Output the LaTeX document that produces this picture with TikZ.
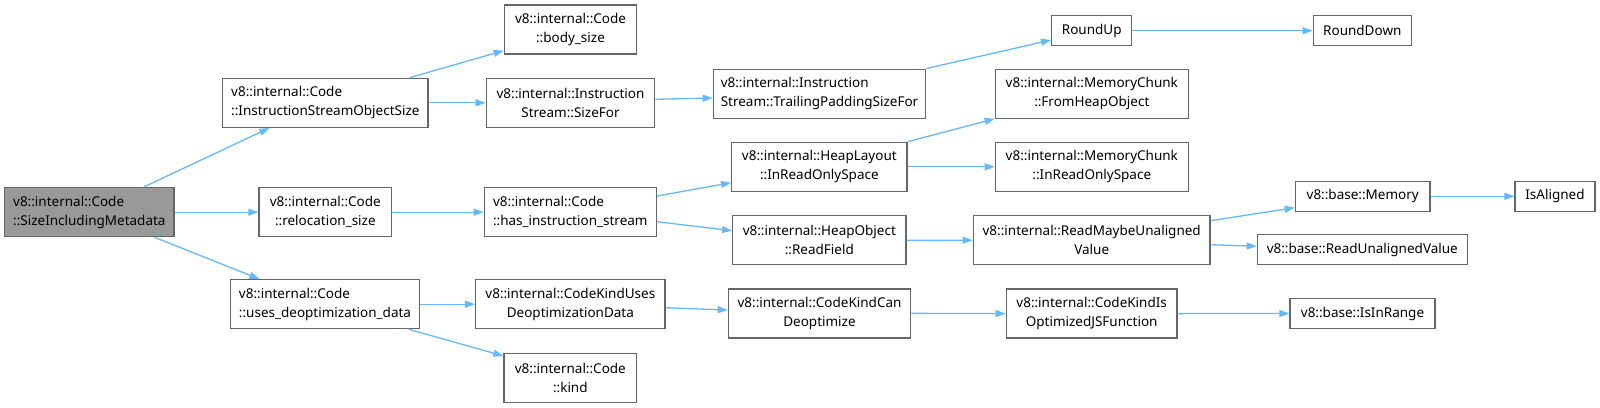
\documentclass[tikz,border=0pt]{standalone}
\usepackage{fontspec}
\setmainfont{Noto Sans}
\usetikzlibrary{arrows.meta}
\definecolor{grey40}{HTML}{666666}
\definecolor{grey60}{HTML}{999999}
\definecolor{steelblueone}{HTML}{63B8FF}
\begin{document}
\begin{tikzpicture}[x=1pt, y=-1pt,
    fn/.style={draw=grey40, fill=white, line width=1.3pt, inner sep=0pt,
        font=\fontsize{13.5}{19}\selectfont, align=center, minimum height=49pt},
    fnl/.style={fn, align=left},
    fnone/.style={fn, minimum height=30pt},
    call/.style={draw=steelblueone, line width=1.3pt, -{Triangle[length=10pt,width=7pt]}}]
    \useasboundingbox (0,0) rectangle (1600,407);

    % Caller
    \node[fnl, fill=grey60, minimum width=169.3pt] (root) at (89.35,212.2) {v8::internal::Code\\::SizeIncludingMetadata};

    % Direct callees
    \node[fnl, minimum width=205.3pt] (isos) at (325.35,102.8) {v8::internal::Code\\::InstructionStreamObjectSize};
    \node[fn, minimum width=132.7pt] (reloc) at (325.35,212.2) {v8::internal::Code\\::relocation\_size};
    \node[fnl, minimum width=188.6pt] (uses) at (325,304.2) {v8::internal::Code\\::uses\_deoptimization\_data};

    % Second level
    \node[fn, minimum width=132.4pt] (body) at (570.5,29.5) {v8::internal::Code\\::body\_size};
    \node[fn, minimum width=168.4pt] (sizefor) at (570.5,102.8) {v8::internal::Instruction\\Stream::SizeFor};
    \node[fnl, minimum width=172pt] (hasinst) at (570.3,212.2) {v8::internal::Code\\::has\_instruction\_stream};
    \node[fn, minimum width=189.3pt] (ckuses) at (570.35,304.2) {v8::internal::CodeKindUses\\DeoptimizationData};
    \node[fn, minimum width=132.7pt] (kind) at (570.35,377.7) {v8::internal::Code\\::kind};

    % Third level
    \node[fnl, minimum width=212.4pt] (trail) at (819.5,93.7) {v8::internal::Instruction\\Stream::TrailingPaddingSizeFor};
    \node[fn, minimum width=175.3pt] (heaplayout) at (819.35,166.8) {v8::internal::HeapLayout\\::InReadOnlySpace};
    \node[fn, minimum width=173.3pt] (readfield) at (819.35,240.2) {v8::internal::HeapObject\\::ReadField};
    \node[fn, minimum width=182.4pt] (ckcan) at (819.5,313.35) {v8::internal::CodeKindCan\\Deoptimize};

    % Fourth level
    \node[fnone, minimum width=80pt] (roundup) at (1091.7,30.7) {RoundUp};
    \node[fn, minimum width=193pt] (mcfrom) at (1091.8,93.7) {v8::internal::MemoryChunk\\::FromHeapObject};
    \node[fn, minimum width=193pt] (mcinro) at (1091.8,166.8) {v8::internal::MemoryChunk\\::InReadOnlySpace};
    \node[fn, minimum width=236.7pt] (readmaybe) at (1091.7,240.3) {v8::internal::ReadMaybeUnaligned\\Value};
    \node[fn, minimum width=170.7pt] (ckisopt) at (1091.65,313.6) {v8::internal::CodeKindIs\\OptimizedJSFunction};

    % Fifth and sixth level
    \node[fnone, minimum width=98pt] (rounddown) at (1362.3,30.7) {RoundDown};
    \node[fnone, minimum width=134.7pt] (memory) at (1362.7,196.3) {v8::base::Memory};
    \node[fnone, minimum width=210pt] (readunal) at (1362.3,249.7) {v8::base::ReadUnalignedValue};
    \node[fnone, minimum width=145pt] (isinrange) at (1362.5,313.5) {v8::base::IsInRange};
    \node[fnone, minimum width=80pt] (isaligned) at (1555,196.3) {IsAligned};

    % Calls
    \draw[call] ([xshift=-31pt]root.north east) -- ([xshift=47.3pt]isos.south west);
    \draw[call] (root.east) -- (reloc.west);
    \draw[call] ([xshift=-20pt]root.south east) -- ([xshift=29.3pt]uses.north west);

    \draw[call] ([xshift=-19pt]isos.north east) -- ([yshift=4pt]body.south west);
    \draw[call] (isos.east) -- (sizefor.west);
    \draw[call] ([yshift=3.5pt]sizefor.east) -- ([yshift=-4.3pt]trail.west);
    \draw[call] (trail.north east) -- ([yshift=-9.3pt]roundup.west);
    \draw[call] (roundup.east) -- (rounddown.west);

    \draw[call] (reloc.east) -- (hasinst.west);
    \draw[call] ([yshift=16.2pt]hasinst.east) -- ([yshift=-15.9pt]heaplayout.west);
    \draw[call] ([yshift=-9.5pt]hasinst.east) -- ([yshift=9.5pt]readfield.west);
    \draw[call] (heaplayout.north east) -- (mcfrom.south west);
    \draw[call] (heaplayout.east) -- (mcinro.west);
    \draw[call] (readfield.east) -- (readmaybe.west);
    \draw[call] ([yshift=19.6pt]readmaybe.east) -- ([yshift=-11.4pt]memory.west);
    \draw[call] ([yshift=-4.4pt]readmaybe.east) -- ([yshift=3.4pt]readunal.west);
    \draw[call] (memory.east) -- (isaligned.west);

    \draw[call] (uses.east) -- (ckuses.west);
    \draw[call] ([xshift=-11pt]uses.south east) -- ([yshift=-3.4pt]kind.north west);
    \draw[call] ([yshift=-3.5pt]ckuses.east) -- ([yshift=3.3pt]ckcan.west);
    \draw[call] (ckcan.east) -- (ckisopt.west);
    \draw[call] (ckisopt.east) -- (isinrange.west);
\end{tikzpicture}
\end{document}
